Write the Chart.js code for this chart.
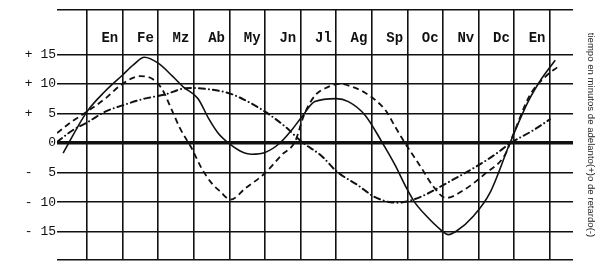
<!DOCTYPE html>
<html>
<head>
<meta charset="utf-8">
<script src="https://cdn.jsdelivr.net/npm/chart.js@4.4.0/dist/chart.umd.min.js"></script>
<style>
  html, body { margin: 0; padding: 0; background: #fff; }
  #wrap { width: 601px; height: 266px; }
</style>
</head>
<body>
<div id="wrap"><canvas id="eot"></canvas></div>
<script>
// x is measured in months: 0 = left edge of the first "En" column
const months = ['En', 'Fe', 'Mz', 'Ab', 'My', 'Jn', 'Jl', 'Ag', 'Sp', 'Oc', 'Nv', 'Dc', 'En'];
const minuteTicks = [15, 10, 5, 0, -5, -10, -15];
const minuteLabels = ['+ 15', '+ 10', '+  5', '0', '-  5', '- 10', '- 15'];
const sideTitle = 'tiempo en minutos de adelanto(+)o de retardo(-)';

// solid line (sum)
const totalX = [-0.67, 0, 0.5, 1.0, 1.3, 1.61, 2.0, 2.4, 2.7, 3.12, 3.41, 3.69, 3.97, 4.3, 4.63, 5.0, 5.42, 5.75, 6.03, 6.4, 7.0, 7.34, 7.81, 8.28, 8.65, 8.98, 9.2, 9.54, 9.92, 10.15, 10.38, 10.85, 11.32, 11.88, 12.39, 12.77, 13.15];
const totalY = [-1.7, 5.3, 8.7, 11.5, 13.2, 14.5, 13.5, 11.3, 9.5, 7.5, 4.2, 1.6, 0, -1.35, -1.9, -1.6, 0, 2.2, 4.4, 7.0, 7.5, 7.0, 4.7, 0.2, -3.7, -7.7, -10.0, -12.4, -14.6, -15.5, -14.9, -12.4, -8.4, 0, 7.0, 10.9, 14.0];

// short dashes (half-year wave)
const semiX = [-0.84, -0.43, 0, 0.51, 0.97, 1.49, 1.82, 2.1, 2.38, 2.61, 2.94, 3.22, 3.5, 3.74, 4.03, 4.44, 5.0, 5.47, 5.84, 6.1, 6.4, 6.78, 7.1, 7.45, 7.81, 8.15, 8.4, 8.65, 8.93, 9.4, 9.72, 10.08, 10.6, 11.2, 11.74, 11.97, 12.44, 12.87, 13.25];
const semiY = [1.7, 3.6, 5.3, 7.5, 9.9, 11.3, 10.9, 9.2, 5.6, 2.5, -0.9, -4.3, -6.8, -8.2, -9.6, -7.7, -5.1, -2.0, 0.2, 4.8, 8.0, 9.5, 10.0, 9.5, 8.5, 7.0, 5.4, 2.8, 0, -4.3, -7.3, -9.3, -7.9, -5.1, -2.0, 1.4, 8.1, 11.2, 13.0];

// dash-dot (one-year wave)
const annualX = [-0.84, -0.39, 0.04, 0.51, 1.07, 1.61, 2.19, 2.7, 3.0, 3.4, 4.0, 4.42, 5.0, 5.56, 6.03, 6.59, 7.01, 7.62, 8.04, 8.42, 8.72, 8.98, 9.45, 10.1, 10.9, 11.45, 11.9, 12.49, 13.0];
const annualY = [0.2, 2.2, 3.6, 5.3, 6.5, 7.5, 8.2, 9.2, 9.3, 9.1, 8.4, 7.3, 5.3, 2.8, 0.2, -2.2, -4.8, -7.2, -9.0, -9.9, -10.1, -9.9, -8.9, -6.8, -4.1, -2.0, 0, 2.0, 4.0];

const X_MIN = -0.843, X_MAX = 13.65;
const Y_MIN = -19.8, Y_MAX = 22.5;
const LABEL_SHIFT = 0.64;

const pts = (xs, ys) => xs.map((x, i) => ({ x: x, y: ys[i] }));
const ink = '#111';

const noPad = s => { s.paddingTop = 0; s.paddingBottom = 0; s.paddingLeft = 0; s.paddingRight = 0; };

const lineBase = {
  borderColor: ink,
  pointRadius: 0,
  fill: false,
  cubicInterpolationMode: 'monotone',
};

new Chart(document.getElementById('eot'), {
  type: 'line',
  data: {
    datasets: [
      { ...lineBase, data: pts(totalX, totalY), borderWidth: 1.6 },
      { ...lineBase, data: pts(semiX, semiY), borderWidth: 1.8, borderDash: [6, 4] },
      { ...lineBase, data: pts(annualX, annualY), borderWidth: 2, borderDash: [6, 4, 0.01, 4], borderCapStyle: 'round' },
    ]
  },
  options: {
    responsive: true,
    maintainAspectRatio: false,
    animation: false,
    layout: { padding: { left: 0, right: 0, top: 0, bottom: 6 } },
    plugins: {
      legend: { display: false },
      tooltip: { enabled: false },
    },
    scales: {
      x: {
        type: 'linear',
        position: 'bottom',
        min: X_MIN,
        max: X_MAX,
        afterBuildTicks: s => { s.ticks = months.map((m, i) => ({ value: i })).concat([{ value: months.length }]); },
        ticks: { display: false },
        grid: { color: ink, lineWidth: 1.6, drawTicks: false },
        border: { display: false },
        afterFit: s => { noPad(s); s.height = 0; },
      },
      // month names sit inside the top row of the grid (mirrored ticks are not clipped)
      months: {
        type: 'linear',
        position: 'top',
        min: X_MIN,
        max: X_MAX,
        afterBuildTicks: s => { s.ticks = months.map((m, i) => ({ value: i + LABEL_SHIFT })); },
        ticks: {
          mirror: true,
          autoSkip: false,
          maxRotation: 0,
          padding: 19.6,
          color: ink,
          font: { family: '"Liberation Mono", "DejaVu Sans Mono", monospace', size: 14, weight: 'bold' },
          callback: (v, i) => months[i],
        },
        grid: { display: false, drawTicks: false },
        border: { display: false },
        afterFit: s => { noPad(s); s.height = 10; },
      },
      y: {
        min: Y_MIN,
        max: Y_MAX,
        afterBuildTicks: s => {
          s.ticks = [Y_MIN].concat(minuteTicks.slice().reverse(), [Y_MAX]).map(v => ({ value: v }));
        },
        ticks: {
          padding: 1,
          color: ink,
          font: { family: '"Liberation Mono", "DejaVu Sans Mono", monospace', size: 13 },
          callback: v => {
            const i = minuteTicks.indexOf(v);
            return i < 0 ? '' : minuteLabels[i];
          },
        },
        grid: {
          color: ink,
          lineWidth: c => (c.tick && c.tick.value === 0 ? 3.5 : 1.6),
          drawTicks: false,
        },
        border: { display: false },
        afterFit: s => { noPad(s); s.width = 57; },
      },
      side: {
        position: 'right',
        ticks: { display: false },
        grid: { display: false, drawTicks: false },
        border: { display: false },
        title: {
          display: true,
          text: sideTitle,
          color: '#222',
          font: { family: '"Liberation Sans", Arial, sans-serif', size: 9.6 },
          padding: { top: 5, bottom: 0 },
        },
        afterFit: s => { noPad(s); s.width = 28; },
      },
    }
  }
});
</script>
</body>
</html>
